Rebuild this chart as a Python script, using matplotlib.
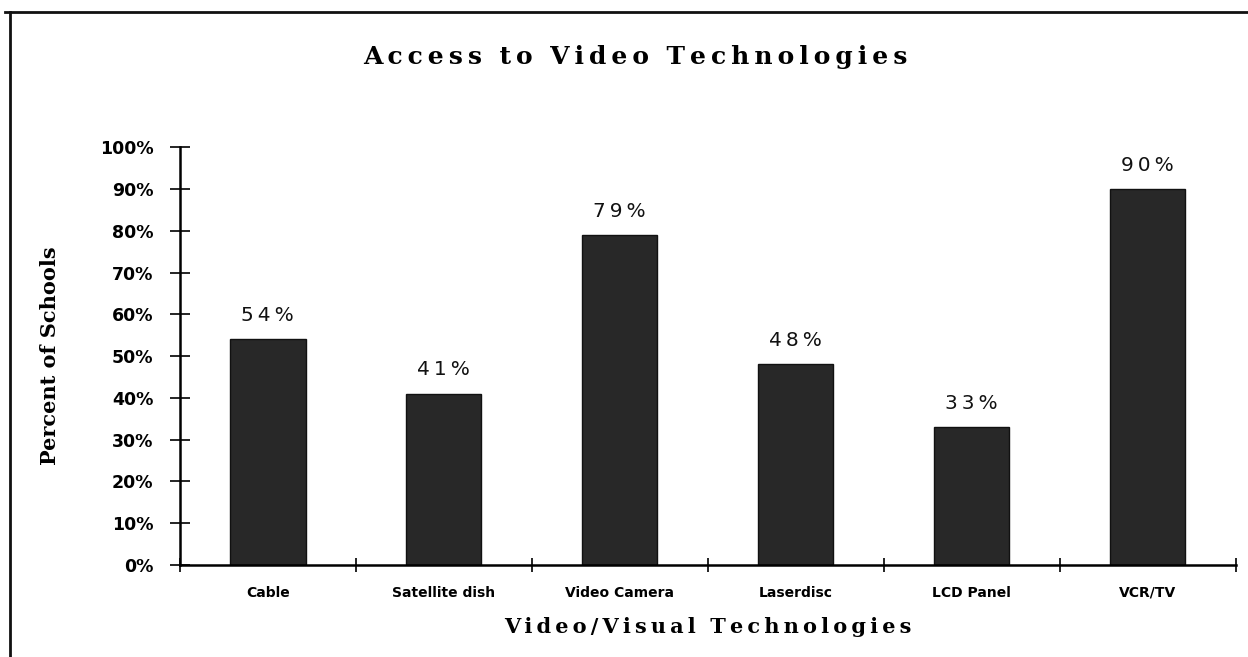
import matplotlib.pyplot as plt
from matplotlib.ticker import FixedLocator
from matplotlib.lines import Line2D

categories = ['Cable', 'Satellite dish', 'Video Camera', 'Laserdisc', 'LCD Panel', 'VCR/TV']
values = [54, 41, 79, 48, 33, 90]
value_labels = ['54%', '41%', '79%', '48%', '33%', '90%']
yticks = [0, 10, 20, 30, 40, 50, 60, 70, 80, 90, 100]
ytick_labels = ['%d%%' % v for v in yticks]
title = 'Access to Video Technologies'
xlabel = 'Video/Visual Technologies'
ylabel = 'Percent of Schools'


def spaced(s, gap='\u2009'):
    # letter spacing like the old typeset chart
    return '  '.join(gap.join(w) for w in s.split(' '))


fig = plt.figure(figsize=(12.48, 6.57), dpi=100)
ax = fig.add_axes([0.144, 0.140, 0.846, 0.636])

x = range(len(categories))
ax.bar(x, values, width=0.43, color='#282828', edgecolor='#111111', linewidth=1)

for i, v in enumerate(values):
    ax.text(i, v + 3.4, spaced(value_labels[i]), ha='center', va='bottom',
            fontsize=14.5, family='DejaVu Sans', color='#111111')

ax.set_xlim(-0.5, len(categories) - 0.5)
ax.set_ylim(0, 100)
ax.set_yticks(yticks)
ax.set_yticklabels(ytick_labels, fontsize=12.5, fontweight='bold', family='DejaVu Sans')
ax.set_xticks(list(x))
ax.set_xticklabels(categories, fontsize=10, fontweight='bold', family='DejaVu Sans')
ax.xaxis.set_minor_locator(FixedLocator([i - 0.5 for i in range(len(categories) + 1)]))

ax.tick_params(axis='y', direction='inout', length=14, width=1.2, pad=12)
ax.tick_params(axis='x', which='major', length=0, pad=15)
ax.tick_params(axis='x', which='minor', direction='inout', length=10, width=1.2)

for s in ['top', 'right']:
    ax.spines[s].set_visible(False)
ax.spines['left'].set_linewidth(1.8)
ax.spines['bottom'].set_linewidth(1.8)

ax.set_ylabel(ylabel, fontsize=15, fontweight='bold', family='DejaVu Serif')
ax.yaxis.set_label_coords(-0.113, 0.5)
ax.set_xlabel(spaced(xlabel), fontsize=15, fontweight='bold', family='DejaVu Serif', labelpad=12)

fig.text(0.509, 0.914, spaced(title), ha='center', va='center',
         fontsize=18, fontweight='bold', family='DejaVu Serif')

# outer frame of the scanned figure
fig.add_artist(Line2D([0.004, 1.0], [0.981, 0.981], color='#111111', lw=2, transform=fig.transFigure))
fig.add_artist(Line2D([0.008, 0.008], [0.0, 0.981], color='#111111', lw=2, transform=fig.transFigure))

fig.savefig('out.png', dpi=100)
